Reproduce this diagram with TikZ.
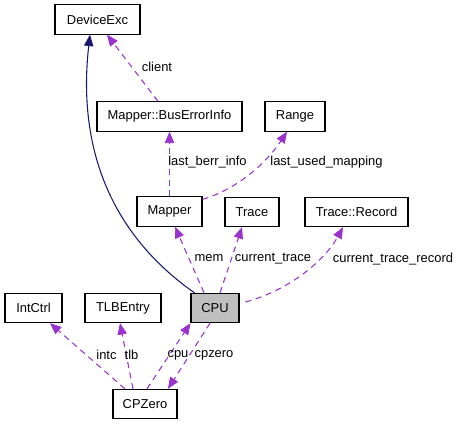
\documentclass[tikz,border=0pt]{standalone}
\usepackage{fontspec}
\setmainfont{Liberation Sans}
\usetikzlibrary{arrows.meta,calc}
\definecolor{navyedge}{HTML}{191970}
\definecolor{purpleedge}{HTML}{9A32CD}
\definecolor{cpugray}{HTML}{BFBFBF}
\begin{document}
\begin{tikzpicture}[x=0.75pt,y=-0.75pt,
  box/.style={draw=black,line width=0.8pt,rectangle,minimum height=22pt,inner sep=0pt,font=\fontsize{9.7}{11}\selectfont},
  lbl/.style={inner sep=0pt,font=\fontsize{9.7}{11}\selectfont},
  usage/.style={draw=purpleedge,line width=0.8pt,dash pattern=on 4.5pt off 3.5pt,
    -{Triangle[length=8.5pt,width=7pt,fill=purpleedge,line width=0.5pt]}},
  inherit/.style={draw=navyedge,line width=0.8pt,
    -{Triangle[length=8.5pt,width=7pt,fill=navyedge,line width=0.5pt]}}]
\useasboundingbox (0,0) rectangle (457,424);
\node[box,minimum width=63.75pt] (dev) at (97.5,19.5) {DeviceExc};
\node[box,minimum width=108.75pt] (bus) at (169.5,116.5) {Mapper::BusErrorInfo};
\node[box,minimum width=45pt] (range) at (295,116.5) {Range};
\node[box,minimum width=48.75pt] (mapper) at (169.5,211.5) {Mapper};
\node[box,minimum width=40.5pt] (trace) at (252,212) {Trace};
\node[box,minimum width=77.25pt] (trec) at (356.5,212) {Trace::Record};
\node[box,minimum width=36pt,fill=cpugray] (cpu) at (215,308) {CPU};
\node[box,minimum width=42.75pt] (intc) at (33.5,308) {IntCtrl};
\node[box,minimum width=57pt] (tlb) at (123,308) {TLBEntry};
\node[box,minimum width=48pt] (cpz) at (145,404) {CPZero};
% inheritance
\draw[inherit] ($(cpu.north west)+(4,0)$) .. controls (105,230) and (78,140) .. ($(dev.south)+(-7.5,0)$);
% usage
\draw[usage] (mapper.north) -- (bus.south);
\node[lbl] (l1) at (207.5,162) {last\_berr\_info};
\draw[usage] ($(bus.north)+(-11.5,0)$) -- ($(dev.south)+(9.5,0)$);
\node[lbl] (l2) at (157,67) {client};
\draw[usage] ($(mapper.north east)+(0,3)$) .. controls (235,190) and (265,165) .. ($(range.south)+(-8,0)$);
\node[lbl] (l3) at (326.5,162) {last\_used\_mapping};
\draw[usage] ($(cpu.north)+(-11,0)$) -- ($(mapper.south)+(5.5,0)$);
\node[lbl] (l4) at (209,258) {mem};
\draw[usage] ($(cpu.north)+(5,0)$) -- ($(trace.south)+(-10,0)$);
\node[lbl] (l5) at (273,259) {current\_trace};
\draw[usage] ($(cpu.east)+(6,-6)$) .. controls (290,290) and (325,260) .. ($(trec.south)+(-13.5,0)$);
\node[lbl] (l6) at (393,259) {current\_trace\_record};
\draw[usage] ($(cpz.north)+(-20,0)$) -- ($(intc.south)+(16.5,0)$);
\node[lbl] (l7) at (106.5,355) {intc};
\draw[usage] ($(cpz.north)+(-12,0)$) -- ($(tlb.south)+(-3,0)$);
\node[lbl] (l8) at (131.5,355) {tlb};
\draw[usage] ($(cpz.north)+(2,0)$) -- (cpu.south west);
\node[lbl] (l9) at (178,355) {cpu};
\draw[usage] ($(cpu.south)+(-5,0)$) -- ($(cpz.north)+(23,0)$);
\node[lbl] (l10) at (214,355) {cpzero};
\end{tikzpicture}
\end{document}
